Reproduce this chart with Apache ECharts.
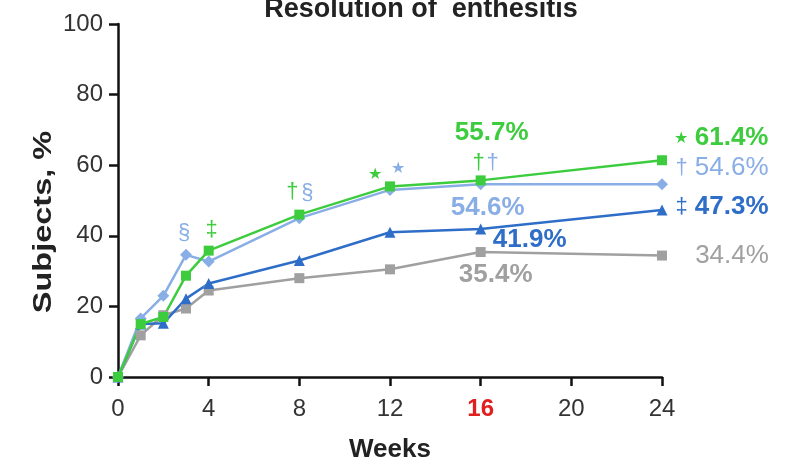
<!DOCTYPE html>
<html lang="en">
  <head>
    <meta charset="utf-8" />
    <title>Resolution of enthesitis</title>
    <script src="https://cdn.jsdelivr.net/npm/echarts@6/dist/echarts.min.js"></script>
    <style>
      html, body { margin: 0; padding: 0; background: #fff; }
      #main { width: 795px; height: 468px; }
    </style>
  </head>
  <body>
    <div id="main"></div>
    <script>
      // weeks and series values (%)
      var weeks = [0, 1, 2, 3, 4, 8, 12, 16, 24];
      var greenVals = [0, 15, 17, 28.7, 35.8, 46, 54, 55.7, 61.4];
      var lightBlueVals = [0, 16.6, 23, 34.6, 32.7, 45, 53, 54.6, 54.6];
      var darkBlueVals = [0, 15, 15.2, 22.2, 26.5, 33, 41, 41.9, 47.3];
      var grayVals = [0, 11.8, 17.5, 19.4, 24.5, 28, 30.5, 35.4, 34.4];
      var xTicks = [0, 4, 8, 12, 16, 20, 24];
      var yTicks = [0, 20, 40, 60, 80, 100];

      var GREEN = "#3dcc3d";
      var LBLUE = "#89aee6";
      var DBLUE = "#2e6ec8";
      var GRAY = "#a0a0a0";
      var FONT = "Liberation Sans";

      function pairs(vals) {
        return weeks.map(function (w, i) { return [w, vals[i]]; });
      }

      // annotation anchored on data point i, shifted by dx/dy pixels
      function note(vals, i, text, color, dx, dy, size, weight) {
        return {
          coord: [weeks[i], vals[i]],
          symbol: "circle",
          symbolSize: 1,
          itemStyle: { color: "rgba(0,0,0,0)" },
          label: {
            show: true,
            formatter: text,
            position: "inside",
            offset: [dx, dy],
            color: color,
            fontFamily: FONT,
            fontSize: size || 26,
            fontWeight: weight || "bold",
            rich: {
              s: { fontSize: 22, fontWeight: "normal", fontFamily: FONT, color: color },
              t: { fontSize: 16, fontWeight: "normal", fontFamily: FONT, color: color }
            }
          }
        };
      }

      function lineSeries(name, vals, color, symbol, size, notes) {
        return {
          name: name,
          type: "line",
          data: pairs(vals),
          symbol: symbol,
          symbolSize: size,
          lineStyle: { color: color, width: 2.5 },
          itemStyle: { color: color },
          markPoint: { silent: true, data: notes }
        };
      }

      var chart = echarts.init(document.getElementById("main"));
      chart.setOption({
        animation: false,
        title: {
          text: "Resolution of  enthesitis",
          left: 416,
          top: -9,
          textAlign: "center",
          textStyle: { fontFamily: FONT, fontSize: 27, fontWeight: "bold", color: "#222" }
        },
        // y axis title is drawn a bit stretched in the original
        graphic: [
          {
            type: "text",
            x: 44,
            y: 222,
            rotation: Math.PI / 2,
            scaleX: 1.25,
            style: {
              text: "Subjects, %",
              fontFamily: FONT,
              fontSize: 26,
              fontWeight: "bold",
              fill: "#222",
              align: "center",
              verticalAlign: "middle"
            }
          }
        ],
        grid: { left: 118, right: 133, top: 24, bottom: 89 },
        xAxis: {
          type: "value",
          min: 0,
          max: 24,
          interval: 4,
          name: "Weeks",
          nameLocation: "middle",
          nameGap: 60,
          nameTextStyle: { fontFamily: FONT, fontSize: 26, fontWeight: "bold", color: "#222" },
          axisLine: { lineStyle: { color: "#111", width: 2.5 } },
          axisTick: { show: true, length: 9, lineStyle: { color: "#111", width: 2.5 } },
          splitLine: { show: false },
          axisLabel: {
            margin: 20,
            fontFamily: FONT,
            fontSize: 24,
            color: "#333",
            customValues: xTicks,
            formatter: function (v) { return v === 16 ? "{red|16}" : String(v); },
            rich: { red: { color: "#e02020", fontWeight: "bold", fontSize: 24, fontFamily: FONT } }
          }
        },
        yAxis: {
          type: "value",
          min: 0,
          max: 100,
          interval: 20,
          axisLine: { show: true, lineStyle: { color: "#111", width: 2.5 } },
          axisTick: { show: true, length: 9, lineStyle: { color: "#111", width: 2.5 } },
          splitLine: { show: false },
          axisLabel: {
            margin: 15,
            fontFamily: FONT,
            fontSize: 24,
            color: "#333",
            customValues: yTicks
          }
        },
        series: [
          lineSeries("gray", grayVals, GRAY, "rect", 10, [
            note(grayVals, 7, "35.4%", GRAY, 15, 23),
            note(grayVals, 8, "34.4%", GRAY, 70, 0, 26, "normal")
          ]),
          lineSeries("darkblue", darkBlueVals, DBLUE, "triangle", 11, [
            note(darkBlueVals, 7, "41.9%", DBLUE, 49, 11),
            note(darkBlueVals, 8, "{s|‡} 47.3%", DBLUE, 60, -3)
          ]),
          lineSeries("lightblue", lightBlueVals, LBLUE, "diamond", 12, [
            note(lightBlueVals, 3, "§", LBLUE, -2, -22, 22, "normal"),
            note(lightBlueVals, 5, "§", LBLUE, 8, -25, 22, "normal"),
            note(lightBlueVals, 6, "★", LBLUE, 8, -21, 16, "normal"),
            note(lightBlueVals, 7, "†", LBLUE, 12, -21, 22, "normal"),
            note(lightBlueVals, 7, "54.6%", LBLUE, 7, 24),
            note(lightBlueVals, 8, "{s|†} 54.6%", LBLUE, 60, -16, 26, "normal")
          ]),
          lineSeries("green", greenVals, GREEN, "rect", 10, [
            note(greenVals, 4, "‡", GREEN, 3, -21, 22, "normal"),
            note(greenVals, 5, "†", GREEN, -7, -23, 22, "normal"),
            note(greenVals, 6, "★", GREEN, -15, -12, 16, "normal"),
            note(greenVals, 7, "†", GREEN, -2, -17, 22, "normal"),
            note(greenVals, 7, "55.7%", GREEN, 11, -48),
            note(greenVals, 8, "{t|★} 61.4%", GREEN, 59, -22)
          ])
        ]
      });
    </script>
  </body>
</html>
